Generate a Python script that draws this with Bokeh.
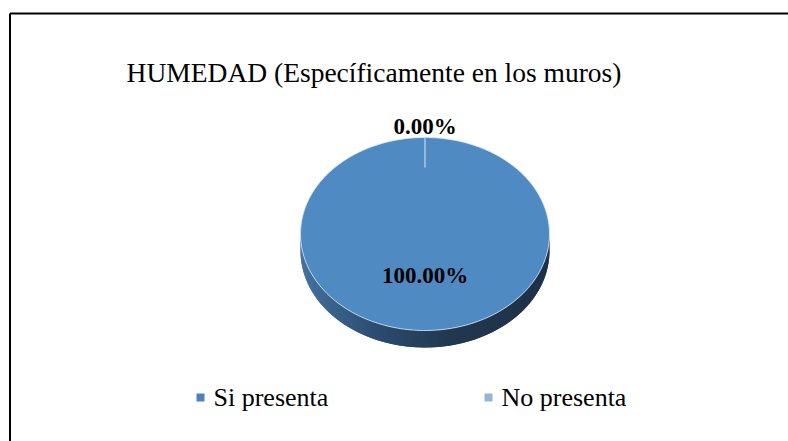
import numpy as np
from bokeh.plotting import figure
from bokeh.models import Range1d
from bokeh.core.properties import value
from bokeh.embed import file_html
from bokeh.resources import INLINE

# ---------------- data ----------------
title_text = "HUMEDAD (Específicamente en los muros)"
categories = ["Si presenta", "No presenta"]
values = [100.0, 0.0]
face_colors = ["#4F8AC2", "#A9C8E8"]
legend_colors = ["#4F81BD", "#95B3D7"]

FONT_T = value("'Liberation Serif', serif")
FONT_L = value("Liberation Serif, serif")

# ---------------- layout ----------------
W, H = 788, 441
p = figure(width=W, height=H, output_backend="svg", toolbar_location=None,
           x_range=Range1d(0, W), y_range=Range1d(H, 0),
           min_border=0)
p.axis.visible = False
p.grid.visible = False
p.outline_line_color = None
p.background_fill_color = "white"
p.border_fill_color = "white"

# chart border (left and top visible in window)
p.segment(x0=[9.5, 9.5], y0=[13, 13], x1=[9.5, 800], y1=[450, 13],
          line_color="black", line_width=2)

# pie geometry
cx, cy, rx, ry, depth = 424.5, 233.5, 124.5, 96.5, 17.0

def pt(theta, r=1.0, dy=0.0):
    return cx + r * rx * np.sin(theta), cy - r * ry * np.cos(theta) + dy

def hex2rgb(h):
    return np.array([int(h[i:i + 2], 16) for i in (1, 3, 5)], dtype=float)

def lerp_color(stops, t):
    for (t0, c0), (t1, c1) in zip(stops[:-1], stops[1:]):
        if t <= t1:
            f = (t - t0) / (t1 - t0) if t1 > t0 else 0
            c = hex2rgb(c0) * (1 - f) + hex2rgb(c1) * f
            return "#%02x%02x%02x" % tuple(int(round(v)) for v in c)
    return stops[-1][1]

# side (3D depth) with gradient, bottom half of ellipse
side_stops = [(0.0, "#44739F"), (0.3, "#2C4C70"), (0.6, "#22384F"), (1.0, "#1E3146")]
n = 120
thetas = np.linspace(np.pi / 2, 3 * np.pi / 2, n + 1)
xs_side, ys_side, cs_side = [], [], []
for i, (a, b) in enumerate(zip(thetas[:-1], thetas[1:])):
    b2 = thetas[min(i + 2, n)]
    xa, ya = pt(a)
    xb, yb = pt(b2)
    xs_side.append([xa, xb, xb, xa])
    ys_side.append([ya, yb, yb + depth, ya + depth])
    xm, _ = pt(0.5 * (a + b))
    t = (xm - (cx - rx)) / (2 * rx)
    cs_side.append(lerp_color(side_stops, t))
p.patches(xs=xs_side, ys=ys_side, fill_color=cs_side, line_color=None)

# slices (clockwise from 12 o'clock)
total = sum(values)
fracs = [v / total for v in values]
starts = np.concatenate([[0.0], np.cumsum(fracs)[:-1]]) * 2 * np.pi
ends = np.cumsum(fracs) * 2 * np.pi
sx, sy, sc = [], [], []
for f, s, e, c in zip(fracs, starts, ends, face_colors):
    if f <= 0:
        continue
    th = np.linspace(s, e, 240)
    x, y = pt(th)
    if f < 1:
        x = np.concatenate([[cx], x])
        y = np.concatenate([[cy], y])
    sx.append(list(x))
    sy.append(list(y))
    sc.append(c)
p.patches(xs=sx, ys=sy, fill_color=sc, line_color="#DCE8F5", line_alpha=0.8, line_width=1)

# zero-width slice boundary line
for f, s, c in zip(fracs, starts, face_colors):
    if f == 0:
        x0, y0 = pt(s, 1.0)
        x1, y1 = pt(s, 0.69)
        p.segment(x0=[x0], y0=[y0], x1=[x1], y1=[y1], line_color=c, line_width=1.5)

# data labels
lx, ly, lt = [], [], []
for f, s, e in zip(fracs, starts, ends):
    mid = 0.5 * (s + e)
    r = 1.11 if f < 0.05 else 0.43
    x, y = pt(mid, r)
    lx.append(x)
    ly.append(y)
    lt.append("%.2f%%" % (f * 100))
p.text(x=lx, y=ly, text=lt, text_font=FONT_T, text_font_style="bold",
       text_font_size="23px", text_align="center", text_baseline="middle", text_color="black")

# title
p.text(x=[373.5], y=[72], text=[title_text], text_font=FONT_T, text_font_style="normal",
       text_font_size="27.5px", text_align="center", text_baseline="middle", text_color="black")

# legend
leg_x = [200, 488]
leg_y = [397, 397]
p.rect(x=leg_x, y=leg_y, width=8, height=8, fill_color=legend_colors, line_color=None)
p.text(x=[x + 13 for x in leg_x], y=leg_y, text=categories, text_font=FONT_L,
       text_font_size="26px", text_align="left", text_baseline="middle", text_color="black")

open("out.html", "w").write(file_html(p, INLINE))
